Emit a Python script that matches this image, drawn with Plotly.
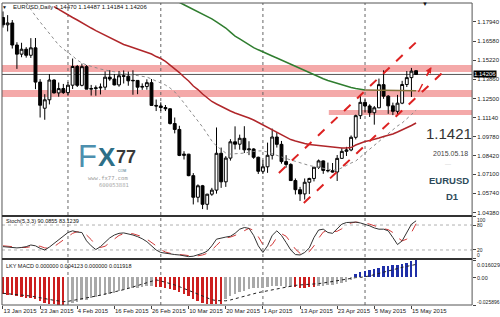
import pandas as pd
import plotly.graph_objects as go

# ---------------- data ----------------
dates = pd.bdate_range("2015-01-13", "2015-05-18")
bars = list(range(len(dates)))

opens = [1.1826, 1.1774, 1.1787, 1.1630, 1.1565, 1.1600, 1.1557, 1.1610, 1.1366, 1.1180,
         1.1240, 1.1381, 1.1289, 1.1320, 1.1291, 1.1344, 1.1477, 1.1343, 1.1476, 1.1316,
         1.1320, 1.1325, 1.1330, 1.1401, 1.1388, 1.1346, 1.1411, 1.1408, 1.1375, 1.1378,
         1.1330, 1.1335, 1.1362, 1.1200, 1.1196, 1.1185, 1.1176, 1.1071, 1.1029, 1.0844,
         1.0853, 1.0700, 1.0546, 1.0628, 1.0496, 1.0568, 1.0597, 1.0859, 1.0656, 1.0825,
         1.0941, 1.0924, 1.0966, 1.0884, 1.0890, 1.0831, 1.0731, 1.0763, 1.0845, 1.0975,
         1.0923, 1.0800, 1.0780, 1.0665, 1.0600, 1.0570, 1.0653, 1.0680, 1.0760, 1.0805,
         1.0737, 1.0735, 1.0726, 1.0823, 1.0873, 1.0883, 1.0973, 1.1127, 1.1222, 1.1196,
         1.1148, 1.1183, 1.1348, 1.1266, 1.1197, 1.1158, 1.1216, 1.1349, 1.1398, 1.14470]
highs = [1.1869, 1.1843, 1.1808, 1.1650, 1.1646, 1.1615, 1.1679, 1.1680, 1.1387, 1.1280,
         1.1423, 1.1386, 1.1363, 1.1353, 1.1366, 1.1534, 1.1488, 1.1498, 1.1487, 1.1346,
         1.1342, 1.1356, 1.1442, 1.1451, 1.1424, 1.1445, 1.1449, 1.1441, 1.1450, 1.1378,
         1.1357, 1.1386, 1.1388, 1.1242, 1.1222, 1.1203, 1.1180, 1.1114, 1.1055, 1.0874,
         1.0855, 1.0718, 1.0638, 1.0634, 1.0571, 1.0613, 1.1043, 1.0900, 1.0839, 1.0960,
         1.1051, 1.0992, 1.1052, 1.0945, 1.0895, 1.0835, 1.0809, 1.0935, 1.1035, 1.1010,
         1.0947, 1.0846, 1.0788, 1.0680, 1.0620, 1.0680, 1.0685, 1.0760, 1.0815, 1.0809,
         1.0793, 1.0790, 1.0847, 1.0897, 1.0905, 1.0986, 1.1134, 1.1267, 1.1243, 1.1208,
         1.1196, 1.1391, 1.1450, 1.1273, 1.1220, 1.1275, 1.1375, 1.1445, 1.1467, 1.14487]
lows = [1.1754, 1.1727, 1.1605, 1.1460, 1.1543, 1.1540, 1.1538, 1.1316, 1.1114, 1.1098,
        1.1207, 1.1285, 1.1262, 1.1282, 1.1270, 1.1317, 1.1331, 1.1336, 1.1316, 1.1270,
        1.1269, 1.1278, 1.1310, 1.1375, 1.1343, 1.1333, 1.1356, 1.1340, 1.1276, 1.1280,
        1.1311, 1.1312, 1.1200, 1.1160, 1.1160, 1.1160, 1.1064, 1.1001, 1.0839, 1.0815,
        1.0696, 1.0495, 1.0510, 1.0462, 1.0457, 1.0556, 1.0572, 1.0613, 1.0620, 1.0807,
        1.0887, 1.0885, 1.0861, 1.0846, 1.0820, 1.0712, 1.0712, 1.0720, 1.0815, 1.0900,
        1.0785, 1.0757, 1.0662, 1.0566, 1.0520, 1.0530, 1.0569, 1.0659, 1.0747, 1.0713,
        1.0723, 1.0722, 1.0662, 1.0820, 1.0840, 1.0874, 1.0958, 1.1103, 1.1150, 1.1118,
        1.1063, 1.1181, 1.1247, 1.1140, 1.1131, 1.1133, 1.1209, 1.1331, 1.1260, 1.14184]
closes = [1.1774, 1.1787, 1.1630, 1.1565, 1.1600, 1.1557, 1.1610, 1.1366, 1.1201, 1.1240,
          1.1381, 1.1289, 1.1320, 1.1291, 1.1344, 1.1477, 1.1343, 1.1476, 1.1316, 1.1320,
          1.1325, 1.1330, 1.1401, 1.1388, 1.1346, 1.1411, 1.1408, 1.1375, 1.1378, 1.1330,
          1.1335, 1.1362, 1.1200, 1.1196, 1.1185, 1.1176, 1.1071, 1.1029, 1.0844, 1.0853,
          1.0700, 1.0546, 1.0628, 1.0496, 1.0568, 1.0597, 1.0859, 1.0656, 1.0825, 1.0941,
          1.0924, 1.0966, 1.0884, 1.0890, 1.0831, 1.0731, 1.0763, 1.0845, 1.0975, 1.0923,
          1.0800, 1.0780, 1.0665, 1.0600, 1.0570, 1.0653, 1.0680, 1.0760, 1.0805, 1.0737,
          1.0735, 1.0726, 1.0823, 1.0873, 1.0883, 1.0973, 1.1127, 1.1222, 1.1196, 1.1148,
          1.1183, 1.1348, 1.1266, 1.1197, 1.1158, 1.1216, 1.1349, 1.1398, 1.1444, 1.14206]

# long moving average (green), from bar 37
ma_long_start = 37
ma_long = [1.1960, 1.1933, 1.1917, 1.1901, 1.1885, 1.1869, 1.1853, 1.1837, 1.1816, 1.1794,
           1.1773, 1.1751, 1.1722, 1.1694, 1.1673, 1.1652, 1.1632, 1.1612, 1.1596, 1.1580,
           1.1566, 1.1552, 1.1538, 1.1523, 1.1507, 1.1491, 1.1475, 1.1459, 1.1445, 1.1431,
           1.1416, 1.1402, 1.1390, 1.1378, 1.1367, 1.1356, 1.1346, 1.1335, 1.1328, 1.1321,
           1.1315, 1.1310, 1.1309, 1.1309, 1.1308, 1.1308, 1.1307, 1.1307, 1.1306, 1.1306,
           1.1305, 1.1305, 1.1304]
# medium moving average (dark red), from bar 11
ma_mid_start = 11
ma_mid = [1.1904, 1.1883, 1.1865, 1.1847, 1.1826, 1.1808, 1.1787, 1.1769, 1.1751, 1.1733,
          1.1716, 1.1701, 1.1684, 1.1666, 1.1648, 1.1634, 1.1623, 1.1612, 1.1602, 1.1591,
          1.1580, 1.1566, 1.1548, 1.1534, 1.1513, 1.1488, 1.1459, 1.1434, 1.1402, 1.1374,
          1.1338, 1.1313, 1.1281, 1.1253, 1.1228, 1.1210, 1.1192, 1.1175, 1.1160, 1.1146,
          1.1135, 1.1121, 1.1110, 1.1096, 1.1078, 1.1061, 1.1043, 1.1025, 1.1007, 1.0989,
          1.0972, 1.0957, 1.0947, 1.0936, 1.0929, 1.0922, 1.0918, 1.0915, 1.0911, 1.0908,
          1.0904, 1.0900, 1.0897, 1.0897, 1.0900, 1.0918, 1.0933, 1.0943, 1.0950, 1.0957,
          1.0968, 1.0979, 1.0986, 1.0997, 1.1011, 1.1025, 1.1039, 1.1057, 1.1075]
# short moving average (grey dotted), from bar 5
ma_short_start = 5
ma_short = [1.1929, 1.1879, 1.1837, 1.1794, 1.1751, 1.1709, 1.1666, 1.1630, 1.1602, 1.1580,
            1.1552, 1.1523, 1.1502, 1.1488, 1.1477, 1.1466, 1.1459, 1.1452, 1.1445, 1.1438,
            1.1431, 1.1424, 1.1420, 1.1417, 1.1413, 1.1410, 1.1402, 1.1388, 1.1374, 1.1360,
            1.1345, 1.1324, 1.1296, 1.1260, 1.1217, 1.1175, 1.1132, 1.1096, 1.1046, 1.0997,
            1.0947, 1.0911, 1.0883, 1.0861, 1.0854, 1.0854, 1.0858, 1.0861, 1.0868, 1.0872,
            1.0876, 1.0876, 1.0868, 1.0858, 1.0847, 1.0833, 1.0822, 1.0811, 1.0801, 1.0790,
            1.0779, 1.0772, 1.0765, 1.0758, 1.0751, 1.0744, 1.0740, 1.0740, 1.0754, 1.0772,
            1.0790, 1.0804, 1.0833, 1.0861, 1.0890, 1.0918, 1.0947, 1.0975, 1.1004, 1.1029,
            1.1054, 1.1075, 1.1103, 1.1135, 1.1167]

# Stochastic (5,3,3)
stoch_main = [28, 27, 26, 25, 26, 28, 32, 30, 24, 20, 27, 36, 44, 52, 62, 66, 63, 62, 42, 30,
              21, 28, 38, 49, 56, 60, 61, 59, 56, 52, 47, 40, 30, 20, 14, 12, 10, 9, 8, 6,
              4, 5, 8, 12, 17, 30, 46, 49, 51, 53, 60, 70, 74, 72, 55, 30, 14, 30, 55, 66,
              55, 38, 20, 9, 8, 14, 25, 50, 68, 70, 62, 60, 72, 82, 86, 87, 87, 85, 82, 78,
              73, 70, 70, 66, 50, 33, 42, 62, 82, 90.0855]
stoch_signal = [30, 29, 27, 26, 26, 26, 28, 30, 29, 25, 24, 28, 36, 44, 53, 60, 64, 64, 56, 45,
                31, 26, 29, 38, 48, 55, 59, 60, 59, 56, 52, 46, 39, 30, 21, 15, 12, 10, 9, 8,
                6, 5, 6, 8, 12, 20, 31, 42, 49, 51, 55, 61, 68, 72, 67, 52, 33, 25, 33, 50,
                59, 53, 38, 22, 12, 10, 16, 30, 48, 63, 67, 64, 65, 71, 80, 85, 87, 86, 85, 82,
                78, 74, 71, 69, 62, 50, 42, 46, 62, 83.1239]

# MACD histogram, bar colour class and dotted signal
macd_hist = [-0.0158, -0.0163, -0.0170, -0.0178, -0.0184, -0.0190, -0.0193, -0.0205, -0.0226, -0.0240,
             -0.0247, -0.0252, -0.0256, -0.025896, -0.0252, -0.0236, -0.0228, -0.0215, -0.0208, -0.0198,
             -0.0188, -0.0178, -0.0165, -0.0153, -0.0143, -0.0131, -0.0120, -0.0111, -0.0102, -0.0096,
             -0.0090, -0.0084, -0.0085, -0.0090, -0.0095, -0.0100, -0.0110, -0.0122, -0.0142, -0.0158,
             -0.0178, -0.0205, -0.0220, -0.0238, -0.0248, -0.0250, -0.0245, -0.0246, -0.0200, -0.0175,
             -0.0155, -0.0140, -0.0125, -0.0112, -0.0104, -0.0100, -0.0097, -0.0092, -0.0085, -0.0084,
             -0.0086, -0.0088, -0.0090, -0.0094, -0.0097, -0.0096, -0.0092, -0.0088, -0.0082, -0.0078,
             -0.0074, -0.0070, -0.0062, -0.0052, -0.0040, -0.0025, 0.0030, 0.0045, 0.0058, 0.0068,
             0.0076, 0.0090, 0.0102, 0.0108, 0.0113, 0.0118, 0.0125, 0.0135, 0.0148, 0.016029]
macd_state = (["down"] * 14 + ["flat"] * 19 + ["down"] * 15 + ["flat"] * 15
              + ["down"] * 5 + ["flat"] * 8 + ["up"] * 14)
macd_signal = [-0.0150, -0.0153, -0.0157, -0.0161, -0.0166, -0.0171, -0.0176, -0.0182, -0.0190, -0.0199,
               -0.0208, -0.0216, -0.0222, -0.0228, -0.0225, -0.0218, -0.0210, -0.0202, -0.0193, -0.0185,
               -0.0176, -0.0167, -0.0158, -0.0148, -0.0138, -0.0127, -0.0116, -0.0104, -0.0092, -0.0079,
               -0.0066, -0.0052, -0.0038, -0.0025, -0.0035, -0.0045, -0.0058, -0.0072, -0.0088, -0.0105,
               -0.0122, -0.0140, -0.0160, -0.0178, -0.0195, -0.0210, -0.0218, -0.0222, -0.0220, -0.0212,
               -0.0200, -0.0188, -0.0175, -0.0162, -0.0152, -0.0143, -0.0135, -0.0126, -0.0117, -0.0108,
               -0.0098, -0.0090, -0.0082, -0.0076, -0.0072, -0.0070, -0.0068, -0.0066, -0.0060, -0.0054,
               -0.0047, -0.0040, -0.0032, -0.0024, -0.0016, -0.0008, -0.0004, -0.0002, 0.0002, 0.0012,
               0.0024, 0.0036, 0.0050, 0.0062, 0.0073, 0.0083, 0.0092, 0.0101, 0.0110, 0.011918]

# axis labels
price_ticks = [1.17940, 1.16580, 1.15220, 1.13860, 1.12500, 1.11140, 1.09780,
               1.08420, 1.07100, 1.05740, 1.04380]
stoch_ticks = [100, 80, 20, 0]
macd_ticks = [0.016029, 0.0, -0.025896]
macd_tick_text = ["0.016029", "0.00", "-0.025896"]
date_tick_bars = list(range(0, 90, 8))
date_tick_text = [f"{d.day} {d.strftime('%b %Y')}" for d in dates[::8]]
month_start_bars = [14, 34, 56, 78]

# drawn objects: support/resistance zones and trend channel
zones = [(1.14380, 1.14878, 0), (1.12600, 1.13098, 0), (1.11318, 1.11674, 70.2)]
last_price = 1.14206
channel_upper = [(59.44, 1.07188), (89.06, 1.16516)]
channel_lower = [(64.81, 1.05052), (94.85, 1.14380)]
target_arrow = [(89.5, 1.12956), (92.3, 1.14736)]

# ---------------- layout geometry (pixels of the 500x317 canvas) ----------------
W, H = 500, 317
def py(p):
    return 1 - p / H
def px(p):
    return p / W

X_DOM = [px(2), px(474)]
X_RANGE = [-0.215, 101.07]
MAIN_DOM = [py(216), py(3)]
STOCH_DOM = [py(258.3), py(216.7)]
MACD_DOM = [py(305), py(260)]

FONT = "Liberation Sans"
AX_FONT = dict(family=FONT, size=6, color="#222")

fig = go.Figure()

fig.add_trace(go.Candlestick(
    x=bars, open=opens, high=highs, low=lows, close=closes,
    increasing=dict(line=dict(color="#000", width=1), fillcolor="#fff"),
    decreasing=dict(line=dict(color="#000", width=1), fillcolor="#000"),
    whiskerwidth=0, xaxis="x", yaxis="y", hoverinfo="skip"))

fig.add_trace(go.Scatter(x=bars[ma_short_start:], y=ma_short, mode="lines",
                         line=dict(color="#8c8c8c", width=1, dash="dot"),
                         xaxis="x", yaxis="y"))
fig.add_trace(go.Scatter(x=bars[ma_mid_start:], y=ma_mid, mode="lines",
                         line=dict(color="#b0262a", width=1.5), xaxis="x", yaxis="y"))
split = 78 - ma_long_start
fig.add_trace(go.Scatter(x=bars[ma_long_start:78 + 1], y=ma_long[:split + 1], mode="lines",
                         line=dict(color="#2f7d2f", width=1.5), xaxis="x", yaxis="y"))
fig.add_trace(go.Scatter(x=bars[78:], y=ma_long[split:], mode="lines",
                         line=dict(color="#86703a", width=1.5), xaxis="x", yaxis="y"))

# stochastic panel
fig.add_trace(go.Scatter(x=bars, y=stoch_signal, mode="lines",
                         line=dict(color="#d23a3a", width=1, dash="dash"), xaxis="x2", yaxis="y2"))
fig.add_trace(go.Scatter(x=bars, y=stoch_main, mode="lines",
                         line=dict(color="#333", width=1), xaxis="x2", yaxis="y2"))

# MACD panel
state_colors = {"down": "#cc1f1f", "flat": "#a9a9a9", "up": "#1f2fa8"}
fig.add_trace(go.Bar(x=bars, y=macd_hist, marker_color=[state_colors[s] for s in macd_state],
                     marker_line_width=0, width=0.42, xaxis="x3", yaxis="y3"))
fig.add_trace(go.Scatter(x=bars, y=macd_signal, mode="lines",
                         line=dict(color="#222", width=1, dash="dot"), xaxis="x3", yaxis="y3"))

shapes = []
# zones (under everything)
for lo, hi, start in zones:
    if start == 0:
        shapes.append(dict(type="rect", xref="x domain", yref="y", x0=0, x1=1, y0=lo, y1=hi,
                           fillcolor="rgba(240,140,140,0.75)", line=dict(width=0), layer="below"))
    else:
        shapes.append(dict(type="rect", xref="x", yref="y", x0=start, x1=X_RANGE[1], y0=lo, y1=hi,
                           fillcolor="rgba(240,140,140,0.75)", line=dict(width=0), layer="below"))
# bid line
shapes.append(dict(type="line", xref="x domain", yref="y", x0=0, x1=1, y0=last_price, y1=last_price,
                   line=dict(color="#555", width=1), layer="below"))
# month separators
for b in month_start_bars:
    shapes.append(dict(type="line", xref="x", yref="paper", x0=b, x1=b, y0=py(305), y1=py(3),
                       line=dict(color="#666", width=1, dash="dot"), layer="below"))
# stochastic levels
for lvl in (80, 20):
    shapes.append(dict(type="line", xref="x2 domain", yref="y2", x0=0, x1=1, y0=lvl, y1=lvl,
                       line=dict(color="#b0b0b0", width=1, dash="dot"), layer="below"))
# trend channel
for seg in (channel_upper, channel_lower, target_arrow):
    (xa, ya), (xb, yb) = seg
    w = 2 if seg is not target_arrow else 1.5
    shapes.append(dict(type="line", xref="x", yref="y", x0=xa, y0=ya, x1=xb, y1=yb,
                       line=dict(color="#dd2222", width=w, dash="dash")))
# panel frames
for top, bot in ((3, 216), (216, 259), (259, 305)):
    shapes.append(dict(type="rect", xref="paper", yref="paper", x0=px(2), x1=px(474),
                       y0=py(bot), y1=py(top), line=dict(color="#555", width=1)))
for yy in (216, 259):
    shapes.append(dict(type="line", xref="paper", yref="paper", x0=px(2), x1=px(474),
                       y0=py(yy), y1=py(yy), line=dict(color="#333", width=2)))


def scale_label(text, ypix, size=5.5):
    # indicator-scale label, kept inside its panel like the terminal does
    return dict(x=px(476.5), y=py(ypix), xref="paper", yref="paper", text=text, showarrow=False,
                font=dict(family=FONT, size=size, color="#222"), xanchor="left", yanchor="middle")


def logo_part(text, xpix, ypix, size, color):
    return dict(x=px(xpix), y=py(ypix), xref="paper", yref="paper", text=text, showarrow=False,
                font=dict(family=FONT, size=size, color=color), xanchor="left", yanchor="middle",
                borderpad=0)


annotations = [
    dict(x=target_arrow[1][0], y=target_arrow[1][1], ax=target_arrow[0][0] + 1.6,
         ay=target_arrow[0][1] + 0.011, xref="x", yref="y", axref="x", ayref="y",
         text="", showarrow=True, arrowhead=2, arrowsize=1, arrowwidth=1.2, arrowcolor="#dd2222"),
    dict(x=px(5), y=py(7), xref="paper", yref="paper", text="▼", showarrow=False,
         font=dict(family=FONT, size=5, color="#111"), xanchor="center", yanchor="middle"),
    dict(x=px(11), y=py(7), xref="paper", yref="paper",
         text="EURUSD,Daily 1.14470 1.14487 1.14184 1.14206", showarrow=False,
         font=dict(family=FONT, size=6, color="#111"), xanchor="left", yanchor="middle"),
    dict(x=px(427), y=py(4), xref="paper", yref="paper", text="▼", showarrow=False,
         font=dict(family=FONT, size=6, color="#111"), xanchor="center", yanchor="middle"),
    dict(x=px(4), y=py(221), xref="paper", yref="paper", text="Stoch(5,3,3) 90.0855 83.1239",
         showarrow=False, font=dict(family=FONT, size=5.5, color="#111"), xanchor="left", yanchor="middle"),
    dict(x=px(4), y=py(266), xref="paper", yref="paper",
         text="LKY MACD 0.000000 0.004123 0.000000 0.011918",
         showarrow=False, font=dict(family=FONT, size=5.5, color="#111"), xanchor="left", yanchor="middle"),
    # current price box on the scale
    dict(x=px(475), y=last_price, xref="paper", yref="y", text="1.14206", showarrow=False,
         bgcolor="#000", font=dict(family=FONT, size=6, color="#fff"), xanchor="left",
         yanchor="middle", borderpad=0),
    # indicator scales
    scale_label("100", 220, 5),
    scale_label("80", 225, 5),
    scale_label("20", 249.5, 5),
    scale_label("0", 254.5, 5),
    scale_label(macd_tick_text[0], 265),
    scale_label(macd_tick_text[1], 277.5),
    scale_label(macd_tick_text[2], 301.5, 5),
    # symbol info block
    dict(x=px(451), y=py(133), xref="paper", yref="paper", text="1.1421", showarrow=False,
         font=dict(family=FONT, size=15, color="#333"), xanchor="center", yanchor="middle"),
    dict(x=px(452), y=py(153), xref="paper", yref="paper", text="2015.05.18", showarrow=False,
         font=dict(family=FONT, size=7, color="#444"), xanchor="center", yanchor="middle"),
    dict(x=px(450), y=py(164), xref="paper", yref="paper", text="—", showarrow=False,
         font=dict(family=FONT, size=6, color="#ccc"), xanchor="center", yanchor="middle"),
    dict(x=px(451), y=py(180), xref="paper", yref="paper", text="<b>EURUSD</b>", showarrow=False,
         font=dict(family=FONT, size=9.5, color="#2e4b5a"), xanchor="center", yanchor="middle"),
    dict(x=px(454), y=py(196), xref="paper", yref="paper", text="<b>D1</b>", showarrow=False,
         font=dict(family=FONT, size=9.5, color="#2e4b5a"), xanchor="center", yanchor="middle"),
    # watermark
    logo_part("F", 77, 156, 31, "#4d8fae"),
    logo_part("<b>X</b>", 97, 157, 26, "#2d6f87"),
    logo_part("<b>77</b>", 115.5, 157, 18, "#3a3a3a"),
    logo_part("COM", 117, 170.5, 3.5, "#3a6e86"),
    dict(x=px(108), y=py(177.5), xref="paper", yref="paper", text="www.fx77.com", showarrow=False,
         font=dict(family="DejaVu Sans Mono", size=5.5, color="#9a9a9a"), xanchor="center", yanchor="middle"),
    dict(x=px(114), y=py(184.5), xref="paper", yref="paper", text="600053881", showarrow=False,
         font=dict(family="DejaVu Sans Mono", size=5.5, color="#a8a8a8"), xanchor="center", yanchor="middle"),
]

common_x = dict(domain=X_DOM, range=X_RANGE, showgrid=False, zeroline=False, showline=False)
common_y = dict(side="right", showgrid=False, zeroline=False, showline=False, ticks="outside",
                ticklen=3, tickcolor="#444", tickfont=AX_FONT)

fig.update_layout(
    width=W, height=H, margin=dict(l=0, r=0, t=0, b=0),
    paper_bgcolor="#fff", plot_bgcolor="#fff", showlegend=False,
    font=dict(family=FONT, size=6, color="#222"),
    boxgap=0.38, boxgroupgap=0, bargap=0,
    xaxis=dict(**common_x, anchor="y", showticklabels=False, rangeslider=dict(visible=False)),
    xaxis2=dict(**common_x, anchor="y2", matches="x", showticklabels=False),
    xaxis3=dict(**common_x, anchor="y3", matches="x", tickvals=date_tick_bars, ticktext=date_tick_text,
                ticks="outside", ticklen=3, tickcolor="#444", tickfont=AX_FONT, tickangle=0,
                ticklabelposition="outside right"),
    yaxis=dict(**common_y, domain=MAIN_DOM, range=[1.04127, 1.19292], anchor="x",
               tickvals=price_ticks, ticktext=[f"{v:.5f}" for v in price_ticks]),
    yaxis2=dict(**common_y, domain=STOCH_DOM, range=[0, 100], anchor="x2",
                tickvals=stoch_ticks, showticklabels=False),
    yaxis3=dict(**common_y, domain=MACD_DOM, range=[-0.025896, 0.016029], anchor="x3",
                tickvals=macd_ticks, showticklabels=False),
    shapes=shapes, annotations=annotations,
)

fig.write_html("out.html")
